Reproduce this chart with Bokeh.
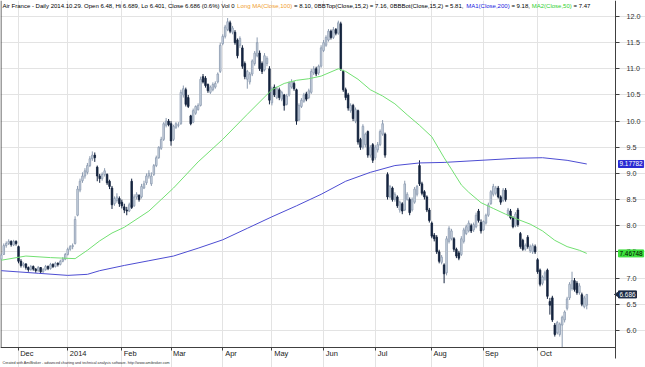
import pandas as pd
from bokeh.plotting import figure
from bokeh.models import ColumnDataSource, Range1d, FixedTicker, PrintfTickFormatter, Label
from bokeh.embed import file_html
from bokeh.resources import INLINE

# ---------------- data ----------------
holidays = ["2013-12-25", "2013-12-26", "2014-01-01", "2014-04-18", "2014-04-21", "2014-05-01"]
days = [d for d in pd.bdate_range("2013-11-21", "2014-10-29") if d.strftime("%Y-%m-%d") not in holidays]

opens = [
    7.36, 7.45, 7.62, 7.66, 7.70, 7.63, 7.70,
    7.60, 7.32, 7.24, 7.27, 7.20, 7.16, 7.22, 7.17, 7.14, 7.20, 7.12, 7.16, 7.22, 7.18, 7.26, 7.22, 7.28, 7.26, 7.32, 7.36,
    7.45, 7.55, 7.60, 7.66, 8.20, 8.68, 8.86, 8.95, 9.02, 9.15, 9.28, 9.35, 9.12, 8.95, 8.90, 8.98, 8.98, 8.85, 8.72, 8.42, 8.48, 8.52,
    8.45, 8.36, 8.30, 8.28, 8.85, 8.38, 8.55, 8.58, 8.55, 8.72, 8.82, 8.95, 8.80, 8.98, 9.15, 9.30, 9.48, 9.65, 9.92, 10.00,
    9.95, 9.65, 9.88, 9.92, 9.95, 10.50, 10.60, 10.45, 10.10, 9.98, 10.15, 10.22, 10.30, 10.85, 10.82, 10.70, 10.55, 10.60, 10.65, 10.75, 10.95,
    11.48, 11.62, 11.75, 11.88, 11.70, 11.70, 11.55, 11.45, 11.40, 11.10, 10.80, 10.75, 10.90, 11.10, 11.25, 11.30, 11.10, 10.98, 11.10, 11.00,
    10.35, 10.65, 10.45, 10.60, 10.42, 10.50, 10.32, 10.50, 10.65, 10.72, 10.60, 10.02, 10.28, 10.38, 10.52, 10.45, 10.55, 10.92, 11.00, 10.92, 11.05,
    11.35, 11.45, 11.55, 11.72, 11.60, 11.75, 11.68, 11.86, 10.95, 10.60, 10.50, 10.20, 10.30, 10.00, 10.20, 9.65, 9.50, 9.55, 9.80, 9.35, 9.55,
    9.30, 9.45, 9.55, 9.75, 9.75, 8.98, 8.55, 8.72, 8.50, 8.55, 8.30, 8.42, 8.30, 8.50, 8.50, 8.30, 8.45, 8.60, 9.15, 8.80, 8.65, 8.55, 8.30,
    8.05, 7.82, 7.78, 7.50, 7.30, 7.25, 7.10, 7.70, 7.75, 7.75, 7.55, 7.48, 7.45, 7.70, 7.85, 7.90, 8.00, 7.92, 7.98, 8.28, 8.06,
    7.92, 8.05, 8.20, 8.42, 8.60, 8.62, 8.72, 8.55, 8.48, 8.68, 8.22, 8.28, 8.15, 8.00, 8.30, 7.85, 7.72, 7.55, 7.78, 7.52, 7.50, 7.60,
    7.35, 7.15, 6.90, 6.98, 7.15, 6.55, 6.62, 6.10, 5.95, 5.92, 6.10, 6.20, 6.42, 6.62, 6.80, 6.95, 6.90, 6.72, 6.68, 6.45, 6.48,
]
highs = [
    7.47, 7.66, 7.70, 7.74, 7.72, 7.73, 7.72,
    7.62, 7.36, 7.30, 7.28, 7.22, 7.25, 7.24, 7.19, 7.23, 7.21, 7.19, 7.25, 7.24, 7.29, 7.28, 7.31, 7.30, 7.35, 7.40, 7.48,
    7.58, 7.63, 7.66, 8.18, 8.76, 8.90, 9.02, 9.10, 9.20, 9.33, 9.42, 9.40, 9.15, 8.99, 9.02, 9.10, 9.00, 8.88, 8.76, 8.56, 8.62, 8.56,
    8.50, 8.42, 8.36, 8.44, 8.90, 8.60, 8.64, 8.60, 8.80, 8.86, 9.00, 9.06, 9.02, 9.18, 9.34, 9.52, 9.70, 9.98, 10.06, 10.04,
    10.00, 9.93, 9.98, 9.98, 10.60, 10.68, 10.64, 10.50, 10.12, 10.24, 10.30, 10.34, 10.85, 10.90, 10.86, 10.72, 10.68, 10.74, 10.76, 10.93, 11.50,
    11.66, 11.84, 11.97, 11.92, 11.82, 11.74, 11.58, 11.62, 11.45, 11.14, 10.98, 10.94, 11.18, 11.34, 11.60, 11.35, 11.14, 11.30, 11.24, 11.05,
    10.66, 10.70, 10.66, 10.64, 10.58, 10.52, 10.52, 10.76, 10.80, 10.76, 10.62, 10.34, 10.44, 10.54, 10.56, 10.62, 11.00, 11.05, 11.04, 11.08, 11.45,
    11.55, 11.64, 11.76, 11.75, 11.80, 11.78, 11.92, 11.90, 10.98, 10.64, 10.54, 10.34, 10.33, 10.26, 10.22, 9.68, 9.94, 9.78, 9.82, 9.54, 9.58,
    9.54, 9.60, 9.84, 10.02, 9.78, 9.02, 8.78, 8.75, 8.64, 8.58, 8.48, 8.45, 8.86, 8.64, 8.54, 8.54, 8.74, 8.78, 9.25, 8.84, 8.68, 8.58, 8.34,
    8.08, 7.86, 7.82, 7.54, 7.44, 7.28, 7.80, 7.99, 7.94, 7.78, 7.58, 7.52, 7.80, 7.96, 8.02, 8.10, 8.04, 8.06, 8.25, 8.32, 8.12,
    8.10, 8.23, 8.44, 8.68, 8.80, 8.76, 8.76, 8.58, 8.72, 8.72, 8.34, 8.32, 8.18, 8.26, 8.34, 7.88, 7.75, 7.66, 7.82, 7.64, 7.66, 7.64,
    7.38, 7.18, 7.05, 7.14, 7.18, 6.62, 6.66, 6.14, 6.18, 6.15, 6.28, 6.38, 6.64, 6.92, 7.12, 7.00, 6.94, 6.90, 6.72, 6.66, 6.689,
]
lows = [
    7.33, 7.44, 7.58, 7.63, 7.60, 7.61, 7.62,
    7.28, 7.20, 7.20, 7.16, 7.12, 7.14, 7.14, 7.10, 7.12, 7.09, 7.10, 7.14, 7.15, 7.16, 7.19, 7.20, 7.22, 7.24, 7.30, 7.34,
    7.43, 7.52, 7.55, 7.64, 8.18, 8.64, 8.82, 8.90, 8.98, 9.12, 9.24, 9.22, 8.85, 8.82, 8.86, 8.94, 8.78, 8.70, 8.32, 8.38, 8.44, 8.36,
    8.33, 8.24, 8.20, 8.26, 8.32, 8.36, 8.50, 8.46, 8.52, 8.70, 8.78, 8.90, 8.76, 8.95, 9.12, 9.28, 9.45, 9.62, 9.88, 9.90,
    9.53, 9.62, 9.85, 9.88, 9.93, 10.45, 10.28, 10.25, 9.92, 9.96, 10.12, 10.20, 10.28, 10.72, 10.64, 10.54, 10.52, 10.57, 10.62, 10.72, 10.92,
    11.45, 11.58, 11.72, 11.68, 11.66, 11.46, 11.20, 11.40, 11.00, 10.80, 10.62, 10.70, 10.86, 11.06, 11.22, 10.96, 10.90, 10.95, 11.05, 10.32,
    10.30, 10.46, 10.42, 10.40, 10.38, 10.20, 10.30, 10.47, 10.62, 10.58, 9.93, 10.00, 10.25, 10.35, 10.38, 10.42, 10.52, 10.88, 10.86, 10.88, 11.02,
    11.32, 11.42, 11.52, 11.56, 11.57, 11.64, 11.65, 10.96, 10.56, 10.40, 10.20, 10.16, 10.00, 9.96, 9.55, 9.45, 9.46, 9.50, 9.30, 9.30, 9.20,
    9.26, 9.40, 9.52, 9.72, 9.30, 8.50, 8.52, 8.46, 8.46, 8.34, 8.25, 8.22, 8.28, 8.48, 8.20, 8.27, 8.42, 8.56, 8.76, 8.58, 8.50, 8.26, 8.06,
    7.76, 7.70, 7.46, 7.28, 7.26, 6.90, 7.05, 7.66, 7.72, 7.50, 7.38, 7.34, 7.42, 7.66, 7.82, 7.87, 7.86, 7.88, 7.95, 8.06, 7.85,
    7.90, 8.02, 8.17, 8.40, 8.56, 8.58, 8.52, 8.40, 8.45, 8.46, 8.18, 8.12, 7.95, 7.97, 7.98, 7.56, 7.52, 7.52, 7.56, 7.48, 7.46, 7.46,
    7.08, 6.84, 6.86, 6.95, 6.60, 6.30, 6.16, 5.88, 5.92, 5.88, 5.68, 6.15, 6.38, 6.58, 6.76, 6.74, 6.68, 6.68, 6.46, 6.42, 6.401,
]
closes = [
    7.44, 7.62, 7.66, 7.70, 7.64, 7.70, 7.66,
    7.32, 7.24, 7.27, 7.20, 7.16, 7.22, 7.17, 7.14, 7.20, 7.12, 7.16, 7.22, 7.18, 7.26, 7.22, 7.28, 7.26, 7.32, 7.36, 7.45,
    7.55, 7.60, 7.62, 8.12, 8.70, 8.85, 8.95, 9.05, 9.15, 9.28, 9.35, 9.30, 8.95, 8.90, 8.98, 9.05, 8.82, 8.75, 8.40, 8.52, 8.55, 8.42,
    8.38, 8.30, 8.28, 8.40, 8.35, 8.55, 8.60, 8.50, 8.75, 8.80, 8.95, 9.00, 8.95, 9.15, 9.30, 9.50, 9.65, 9.95, 10.00, 9.93,
    9.62, 9.90, 9.95, 9.93, 10.55, 10.62, 10.32, 10.28, 9.95, 10.20, 10.28, 10.30, 10.80, 10.75, 10.68, 10.58, 10.65, 10.70, 10.72, 10.90, 11.45,
    11.62, 11.80, 11.90, 11.72, 11.78, 11.50, 11.25, 11.58, 11.05, 10.85, 10.95, 10.90, 11.15, 11.30, 11.50, 11.00, 10.95, 11.25, 11.20, 10.40,
    10.62, 10.50, 10.62, 10.45, 10.55, 10.30, 10.48, 10.72, 10.75, 10.62, 10.00, 10.30, 10.40, 10.50, 10.42, 10.58, 10.95, 11.00, 10.90, 11.05, 11.40,
    11.50, 11.60, 11.72, 11.60, 11.75, 11.68, 11.88, 11.00, 10.60, 10.45, 10.25, 10.30, 10.05, 10.22, 9.60, 9.50, 9.90, 9.75, 9.35, 9.50, 9.25,
    9.50, 9.55, 9.80, 9.95, 9.35, 8.55, 8.75, 8.50, 8.60, 8.38, 8.45, 8.28, 8.80, 8.60, 8.25, 8.50, 8.70, 8.75, 8.80, 8.62, 8.55, 8.30, 8.10,
    7.80, 7.75, 7.50, 7.32, 7.40, 7.08, 7.75, 7.95, 7.90, 7.55, 7.42, 7.38, 7.75, 7.92, 7.98, 8.05, 7.90, 8.02, 8.20, 8.10, 7.90,
    8.08, 8.20, 8.40, 8.65, 8.75, 8.72, 8.55, 8.45, 8.68, 8.50, 8.30, 8.15, 7.98, 8.22, 8.02, 7.60, 7.55, 7.62, 7.60, 7.60, 7.62, 7.50,
    7.12, 6.88, 7.02, 7.10, 6.65, 6.48, 6.20, 5.92, 6.15, 6.12, 6.25, 6.35, 6.60, 6.88, 6.95, 6.78, 6.72, 6.85, 6.50, 6.62, 6.686,
]

# moving averages (bar index -> value)
ma50_idx = [0, 10, 20, 30, 35, 40, 45, 50, 60, 70, 80, 90, 100, 110, 115, 120, 125, 130, 137, 140, 145, 150, 155, 160, 165,
            170, 175, 180, 183, 187, 190, 195, 200, 205, 210, 215, 220, 225, 230, 235, 238]
ma50 = [7.34, 7.42, 7.39, 7.37, 7.53, 7.71, 7.86, 7.97, 8.28, 8.72, 9.22, 9.65, 10.13, 10.60, 10.72, 10.78, 10.81, 10.86, 11.00,
        10.95, 10.80, 10.60, 10.48, 10.33, 10.12, 9.92, 9.70, 9.30, 9.08, 8.78, 8.64, 8.44, 8.33, 8.22, 8.12, 8.03, 7.90, 7.72,
        7.60, 7.53, 7.47]
ma200_idx = [0, 15, 27, 35, 40, 50, 60, 70, 80, 90, 100, 110, 120, 130, 140, 150, 160, 170, 180, 195, 210, 220, 230, 238]
ma200 = [7.14, 7.09, 7.05, 7.07, 7.14, 7.24, 7.33, 7.42, 7.57, 7.73, 7.95, 8.17, 8.38, 8.60, 8.85, 9.02, 9.15, 9.20, 9.21,
         9.25, 9.29, 9.30, 9.25, 9.18]

month_labels = ["Dec", "2014", "Feb", "Mar", "Apr", "May", "Jun", "Jul", "Aug", "Sep", "Oct"]
y_ticks = [6.0, 6.5, 7.0, 7.5, 8.0, 8.5, 9.0, 9.5, 10.0, 10.5, 11.0, 11.5, 12.0]

last_values = {"ma200": "9.17782", "ma50": "7.46748", "close": "6.686"}
title_parts = [
    ("Air France - Daily 2014.10.29. Open 6.48, Hi 6.689, Lo 6.401, Close 6.686 (0.6%) Vol 0 ", "#000000"),
    ("Long MA(Close,100)", "#f0a030"),
    (" = 8.10, 0BBTop(Close,15,2) = 7.16, 0BBBot(Close,15,2) = 5.81, ", "#000000"),
    ("MA1(Close,200)", "#2020e0"),
    (" = 9.18, ", "#000000"),
    ("MA2(Close,50)", "#30d030"),
    (" = 7.47", "#000000"),
]
footer = "Created with AmiBroker - advanced charting and technical analysis software. http://www.amibroker.com"

# ---------------- layout ----------------
n = min(len(days), len(opens), len(highs), len(lows), len(closes))
idx = list(range(n))
month_idx = [i for i in range(1, n) if days[i].month != days[i - 1].month]

W, H = 645, 367
FW, FH = W, H                          # frame spans the price column and the date strip
PW, PH = 615, 347                      # chart pane inside the frame (px)
ppx = 2.46                             # px per trading day
x0 = -0.8 / ppx
x1 = x0 + FW / ppx
ppy = 52.3                             # px per euro
y1 = 12.0 + 16 / ppy
y0 = y1 - FH / ppy


def fx(px):
    return x0 + px / ppx


def fy(py):
    return y1 - py / ppy


x_border = fx(PW)
y_border = fy(PH)

AW = {' ': 278, '\u00a0': 278, '%': 889, '(': 333, ')': 333, ',': 278, '-': 333, '.': 278, '/': 278, ':': 278, '=': 584,
      'A': 667, 'B': 667, 'C': 722, 'D': 722, 'F': 611, 'H': 722, 'J': 500, 'L': 556, 'M': 833, 'O': 778, 'S': 667,
      'T': 611, 'V': 667,
      'a': 556, 'b': 556, 'c': 500, 'd': 556, 'e': 556, 'f': 278, 'g': 556, 'h': 556, 'i': 222, 'k': 500, 'l': 222,
      'm': 833, 'n': 556, 'o': 556, 'p': 556, 'r': 333, 's': 500, 't': 278, 'u': 556, 'v': 500, 'w': 722, 'y': 500}


def em_width(s):
    return sum(AW.get(ch, 556) for ch in s) / 1000.0


p = figure(width=W, height=H, x_range=Range1d(x0, x1), y_range=Range1d(y0, y1),
           output_backend="svg", toolbar_location=None, y_axis_location="right",
           min_border_left=0, min_border_top=0, min_border_right=0, min_border_bottom=0)
p.background_fill_color = "white"
p.border_fill_color = "white"
p.outline_line_color = None
frame_col = "#404040"

# grids (limited to the chart pane)
p.xgrid.ticker = FixedTicker(ticks=month_idx, minor_ticks=[])
p.ygrid.ticker = FixedTicker(ticks=y_ticks, minor_ticks=[])
p.xgrid.grid_line_color = "#e3e3e3"
p.ygrid.grid_line_color = "#e3e3e3"
p.xgrid.bounds = (y_border, y1)
p.ygrid.bounds = (x0, x_border)

# date axis pinned to the pane's bottom edge; labels padded with no-break spaces
# so that each starts just right of its tick
m_fs = 7.5
overrides = {}
for i, lab in zip(month_idx, month_labels):
    w = em_width(lab) * m_fs
    k = max(0, round((w + 2 * 2.0) / (0.278 * m_fs)))
    overrides[i] = "\u00a0" * k + lab
p.xaxis.fixed_location = y_border
p.xaxis.bounds = (x0, x_border)
p.xaxis.ticker = FixedTicker(ticks=month_idx, minor_ticks=[])
p.xaxis.major_label_overrides = overrides
p.xaxis.major_label_text_font = "Liberation Sans"
p.xaxis.major_label_text_font_size = f"{m_fs}px"
p.xaxis.major_label_text_color = "#202020"
p.xaxis.major_label_standoff = -2
p.xaxis.axis_line_color = frame_col
p.xaxis.major_tick_line_color = frame_col
p.xaxis.major_tick_out = 3
p.xaxis.major_tick_in = 0
p.xaxis.minor_tick_line_color = None

# price axis pinned to the pane's right edge
p.yaxis.fixed_location = x_border
p.yaxis.bounds = (fy(358), y1)
p.yaxis.ticker = FixedTicker(ticks=y_ticks, minor_ticks=[])
p.yaxis.formatter = PrintfTickFormatter(format="%.1f")
p.yaxis.major_label_text_font = "Liberation Sans"
p.yaxis.major_label_text_font_size = "7.2px"
p.yaxis.major_label_text_color = "#303030"
p.yaxis.axis_line_color = frame_col
p.yaxis.major_tick_line_color = frame_col
p.yaxis.major_tick_out = 4
p.yaxis.major_tick_in = 0
p.yaxis.major_label_standoff = 7
p.yaxis.minor_tick_line_color = None

# left pane border
p.segment(x0=[fx(0.5)], y0=[y_border], x1=[fx(0.5)], y1=[y1], line_color=frame_col, line_width=1)

# candles
up_fill, up_edge = "#d2dae5", "#8c9bb0"
dn_fill, dn_edge = "#15243f", "#15243f"
o, h, l, c = opens[:n], highs[:n], lows[:n], closes[:n]
is_up = [c[i] >= o[i] for i in idx]
src = ColumnDataSource(dict(
    x=idx, o=o, h=h, l=l, c=c,
    top=[max(o[i], c[i]) for i in idx],
    bottom=[min(o[i], c[i]) for i in idx],
    fill=[up_fill if u else dn_fill for u in is_up],
    edge=[up_edge if u else dn_edge for u in is_up],
))
p.segment(x0="x", y0="l", x1="x", y1="h", line_color="edge", line_width=1, source=src)
p.vbar(x="x", width=0.64, top="top", bottom="bottom", fill_color="fill", line_color="edge",
       line_width=0.8, source=src)

# moving averages
p.line(ma200_idx, ma200, line_color="#4d4dd2", line_width=1)
p.line(ma50_idx, ma50, line_color="#72e072", line_width=1)

# title line (multi-coloured)
full_title = "".join(t for t, _ in title_parts)
t_start, t_end = 2.0, 590.0
t_fs = (t_end - t_start) / em_width(full_title)
cur = t_start
for txt, col in title_parts:
    lead = len(txt) - len(txt.lstrip(" "))
    px = cur + em_width(txt[:lead]) * t_fs
    p.add_layout(Label(x=fx(px), y=fy(5.2), text=txt.strip(" "), text_color=col,
                       text_font="Liberation Sans", text_font_size=f"{t_fs:.2f}px",
                       text_align="left", text_baseline="middle"))
    cur += em_width(txt) * t_fs

# last-value boxes on the price column
boxes = [
    (ma200[-1], last_values["ma200"], "#2a2ad2", "white"),
    (ma50[-1], last_values["ma50"], "#3ce03c", "#000000"),
    (closes[n - 1], last_values["close"], "#1b2a45", "white"),
]
for yv, txt, bg, fg in boxes:
    p.add_layout(Label(x=fx(PW + 3), y=yv, text=txt, text_font="Liberation Sans",
                       text_font_size="6.4px", text_color=fg, background_fill_color=bg,
                       border_line_color=bg, padding=1,
                       text_align="left", text_baseline="middle"))
p.scatter(x=[fx(PW + 1.8)], y=[closes[n - 1]], marker="triangle", angle=1.5708, size=5,
          fill_color="#1b2a45", line_color="#1b2a45")

# footer
f_fs = (170.0 - 2.0) / em_width(footer)
p.add_layout(Label(x=fx(2.0), y=fy(362.5), text=footer, text_font="Liberation Sans",
                   text_font_size=f"{f_fs:.2f}px", text_color="#303030",
                   text_align="left", text_baseline="middle"))

open("out.html", "w").write(file_html(p, INLINE))
